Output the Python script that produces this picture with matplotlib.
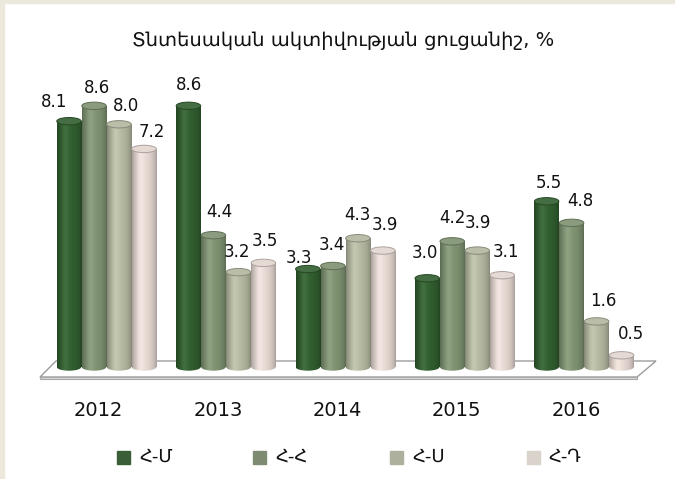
import numpy as np
import matplotlib
matplotlib.use("Agg")
import matplotlib.pyplot as plt
from matplotlib import patches as mpatches
from matplotlib import colors as mcolors

plt.rcParams['font.family'] = ['DejaVu Sans']

# data
years = ['2012', '2013', '2014', '2015', '2016']
series = ['Հ-Մ', 'Հ-Հ', 'Հ-Ս', 'Հ-Դ']
hm = [8.1, 8.6, 3.3, 3.0, 5.5]
hh = [8.6, 4.4, 3.4, 4.2, 4.8]
hs = [8.0, 3.2, 4.3, 3.9, 1.6]
hd = [7.2, 3.5, 3.9, 3.1, 0.5]
values = [hm, hh, hs, hd]
title = 'Տնտեսական ակտիվության ցուցանիշ, %'

bar_colors = ['#2f5b2d', '#7a8d6d', '#aeb29b', '#ddd0ca']
legend_colors = ['#3a5e36', '#7c8b72', '#adb09c', '#d9d3cb']

# label nudges in pixels (dx, dy) per series / year
label_dx = [[-15, 1, -9, -2, 2], [3, 6, -1, 0, 9], [7, -1, 0, 1, 7], [8, 1, 2, 4, 9]]
label_dy = [[16, 17, 7, 22, 15], [14, 19, 17, 20, 18], [15, 16, 20, 24, 17], [13, 18, 22, 20, 18]]

fig = plt.figure(figsize=(6.75, 4.79), dpi=100)
fig.patch.set_facecolor('white')
# beige frame on top / left
fig.patches.append(mpatches.Rectangle((0, 1 - 3 / 479), 1, 3 / 479, transform=fig.transFigure,
                                      color='#ece9dc', zorder=0))
fig.patches.append(mpatches.Rectangle((0, 0), 4 / 675, 1, transform=fig.transFigure,
                                      color='#ece9dc', zorder=0))

ax = fig.add_axes([0, 0.1052, 1, 0.8038])
ax.axis('off')

pitch = 0.2094
width = 0.205
cap = 0.24


def shade(color, n=64):
    rgb = np.array(mcolors.to_rgb(color))
    t = np.linspace(0, 1, n)
    body = 0.74 + 0.30 * np.sin(np.pi * t) ** 0.6
    spec = 0.07 * np.exp(-((t - 0.33) / 0.15) ** 2)
    img = rgb[None, :] * body[:, None] + spec[:, None]
    return np.clip(img, 0, 1)[None, :, :]


def cylinder(x, h, color, z):
    x0, x1 = x - width / 2, x + width / 2
    grad = shade(color)
    top = h - cap / 2
    clips = [mpatches.Rectangle((x0, 0), width, top, transform=ax.transData),
             mpatches.Ellipse((x, 0), width, cap, transform=ax.transData)]
    for clip in clips:
        im = ax.imshow(grad, extent=[x0, x1, -cap, h], aspect='auto', zorder=z,
                       interpolation='bilinear')
        im.set_clip_path(clip)
    rgb = np.array(mcolors.to_rgb(color))
    capc = np.clip(rgb * 0.92 + 0.1, 0, 1)
    edge = rgb * 0.78
    ax.add_patch(mpatches.Ellipse((x, top), width, cap, facecolor=capc, edgecolor=edge,
                                  linewidth=0.7, zorder=z + 0.1))


# floor platform
back_y, front_y, slab_y = 0.195, -0.325, -0.405
bl, br, fl, fr = -0.423, 4.602, -0.557, 4.443
ax.add_patch(mpatches.Polygon([(bl, back_y), (br, back_y), (fr, front_y), (fl, front_y)],
                              closed=True, facecolor='white', edgecolor='#9c9c9c',
                              linewidth=1.0, zorder=1))
ax.add_patch(mpatches.Polygon([(fl, front_y), (fr, front_y), (fr, slab_y), (fl, slab_y)],
                              closed=True, facecolor='#dcdcdc', edgecolor='#a8a8a8',
                              linewidth=0.8, zorder=1))

for s, vals in enumerate(values):
    for g, v in enumerate(vals):
        x = g + (s - 1.5) * pitch
        cylinder(x, v, bar_colors[s], 2 + s)
        ax.annotate(f'{v:.1f}', xy=(x, v), xytext=(label_dx[s][g], label_dy[s][g]),
                    textcoords='offset pixels', ha='center', va='center',
                    fontsize=12, color='#111111', zorder=10)

for g, yr in enumerate(years):
    ax.annotate(yr, xy=(g, 0), xytext=(-8, -43), textcoords='offset pixels',
                ha='center', va='center', fontsize=14, color='#111111')

ax.set_xlim(-0.892, 4.761)
ax.set_ylim(-2, 10.5)

fig.text(343 / 675, 1 - 40 / 479, title, ha='center', va='center', fontsize=14, color='#111111')

# legend
for i, (name, c) in enumerate(zip(series, legend_colors)):
    x0 = 117 + 136.5 * i
    fig.patches.append(mpatches.Rectangle((x0 / 675, 1 - 464 / 479), 13 / 675, 13 / 479,
                                          transform=fig.transFigure, color=c))
    fig.text((x0 + 22) / 675, 1 - 457 / 479, name, ha='left', va='center',
             fontsize=13, color='#111111')

fig.savefig('out.png', dpi=100, facecolor='white')
